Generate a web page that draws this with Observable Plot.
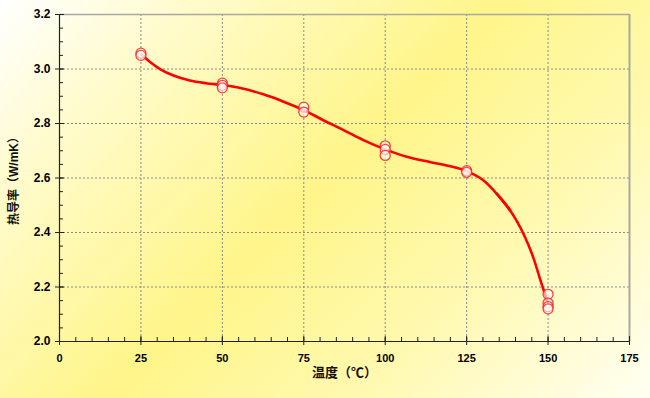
<!DOCTYPE html>
<html>
<head>
<meta charset="utf-8">
<script src="https://cdn.jsdelivr.net/npm/d3@7"></script>
<script src="https://cdn.jsdelivr.net/npm/@observablehq/plot@0.6"></script>
<style>
  html, body { margin: 0; padding: 0; background: #fff; }
</style>
</head>
<body>
<div id="chart"></div>
<script>
// Measured samples (temperature °C, thermal conductivity W/mK)
const temps = [25, 25, 50, 50, 50, 75, 75, 100, 100, 100, 125, 125, 150, 150, 150, 150];
const conductivity = [3.058, 3.05, 2.948, 2.94, 2.931, 2.860, 2.842, 2.718, 2.705, 2.683, 2.627, 2.621, 2.173, 2.141, 2.128, 2.12];

// Smoothed fit curve
const fitTemps = [25, 28, 31, 35, 40, 45, 50, 55.5, 62.6, 68.8, 75, 81, 87.2, 93.3, 100, 106.6, 113.7, 119.9, 125, 130.1, 134.2, 138.3, 142.4, 145.4, 148, 150];
const fitCond  = [3.055, 3.024, 2.999, 2.976, 2.958, 2.948, 2.941, 2.930, 2.907, 2.880, 2.849, 2.812, 2.776, 2.739, 2.705, 2.678, 2.659, 2.643, 2.625, 2.592, 2.543, 2.482, 2.396, 2.310, 2.212, 2.14];

// Tick labels
const xTicks = [0, 25, 50, 75, 100, 125, 150, 175];
const yTicks = [2.0, 2.2, 2.4, 2.6, 2.8, 3.0, 3.2];
const xGrid = [25, 50, 75, 100, 125, 150];
const yGrid = [2.2, 2.4, 2.6, 2.8, 3.0];
const xMinor = d3.range(0, 176, 5);
const yMinor = d3.range(0, 25).map(i => 2.0 + i * 0.05);

const xLabel = "温度（℃）";
const yLabel = "热导率（W/mK）";

const points = temps.map((t, i) => ({t, k: conductivity[i]}));
const fit = fitTemps.map((t, i) => ({t, k: fitCond[i]}));

const axisColor = "#222";
const gridStyle = {stroke: "#8a8a8a", strokeOpacity: 1, strokeDasharray: "2,2", strokeWidth: 1};

const chart = Plot.plot({
  width: 650,
  height: 398,
  marginLeft: 59,
  marginRight: 21,
  marginTop: 14,
  marginBottom: 57,
  style: {
    fontFamily: "'Liberation Sans', Arial, 'Noto Sans CJK SC', sans-serif",
    fontSize: "11px",
    fontWeight: "bold",
    color: "#000",
    background: "linear-gradient(135deg, #ffffff 0%, #fffbc8 20%, #fff58a 48%, #fff9b0 72%, #fffff2 100%)"
  },
  x: {domain: [0, 175]},
  y: {domain: [2.0, 3.2]},
  marks: [
    Plot.gridX(xGrid, gridStyle),
    Plot.gridY(yGrid, gridStyle),
    Plot.ruleY([3.2], {stroke: "#a9a9a0", strokeWidth: 1.5}),
    Plot.ruleX([175], {stroke: "#a9a9a0", strokeWidth: 2}),
    Plot.ruleY([2.0], {stroke: axisColor, strokeWidth: 1.2}),
    Plot.ruleX([0], {stroke: axisColor, strokeWidth: 1.2}),
    // minor ticks (inside)
    Plot.axisX(xMinor, {tickSize: -4, tickFormat: () => "", label: null, stroke: axisColor}),
    Plot.axisY(yMinor, {tickSize: -4, tickFormat: () => "", label: null, stroke: axisColor}),
    // major ticks crossing the axis
    Plot.axisX(xTicks, {tickSize: -5, tickFormat: () => "", label: null, stroke: axisColor}),
    Plot.axisY(yTicks, {tickSize: -5, tickFormat: () => "", label: null, stroke: axisColor}),
    Plot.axisX(xTicks, {tickSize: 4, tickPadding: 9, tickFormat: d => String(d), label: null, stroke: axisColor, fontWeight: "bold", fill: "#000"}),
    Plot.axisY(yTicks, {tickSize: 4, tickPadding: 5, tickFormat: d3.format(".1f"), label: null, stroke: axisColor, fontWeight: "bold", fill: "#000", fontSize: 12}),
    Plot.line(fit, {filter: d => d.t <= 138.3, x: "t", y: "k", curve: "monotone-x", stroke: "#ff0000", strokeWidth: 2.6}),
    Plot.line(fit, {filter: d => d.t >= 134.2, x: "t", y: "k", curve: "monotone-x", stroke: "#ff0000", strokeWidth: 2.6, strokeDasharray: "3,1.2"}),
    Plot.dot(points, {x: "t", y: "k", r: 5, stroke: "#ff2020", strokeWidth: 1.3, fill: "#ffffff", fillOpacity: 0.6, strokeOpacity: 0.85}),
    Plot.text([xLabel], {frameAnchor: "bottom", dy: 35, fontSize: 13, fontWeight: "bold", fill: "#111"}),
    Plot.text([yLabel], {frameAnchor: "left", textAnchor: "middle", dx: -45, rotate: -90, fontSize: 12, fontWeight: "bold", fill: "#111"})
  ]
});
document.getElementById("chart").appendChild(chart);
</script>
</body>
</html>
